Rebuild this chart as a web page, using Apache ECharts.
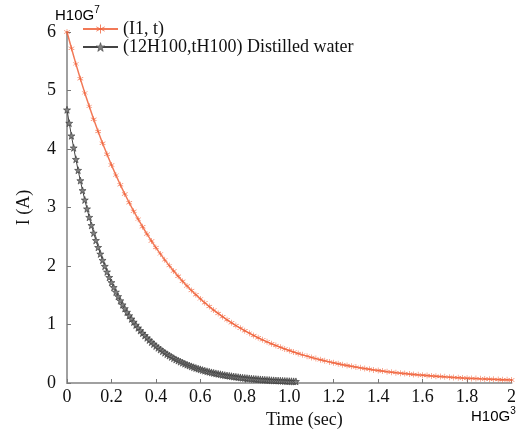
<!DOCTYPE html>
<html>
<head>
<meta charset="utf-8">
<script src="https://cdn.jsdelivr.net/npm/echarts@6/dist/echarts.min.js"></script>
<style>html,body{margin:0;padding:0;background:#fff}#c{width:519px;height:429px}</style>
</head>
<body>
<div id="c"></div>
<script>
// Tick labels
var xTicks = ['0','0.2','0.4','0.6','0.8','1.0','1.2','1.4','1.6','1.8','2'];
var yTicks = ['0','1','2','3','4','5','6'];
// Series names
var seriesNames = ['(I1, t)', '(12H100,tH100) Distilled water'];
// Time step for each series (axis units)
var redStep = 0.02;
var darkStep = 0.01;
// Current values
var redValues = [6.000,5.721,5.455,5.201,4.959,4.729,4.509,4.299,4.099,3.909,3.727,3.554,3.388,3.231,3.081,2.937,2.801,2.671,2.546,2.428,2.315,2.207,2.105,2.007,1.914,1.825,1.740,1.659,1.582,1.508,1.438,1.371,1.307,1.247,1.189,1.133,1.081,1.030,0.982,0.937,0.893,0.852,0.812,0.774,0.738,0.704,0.671,0.640,0.610,0.582,0.555,0.529,0.504,0.481,0.459,0.437,0.417,0.398,0.379,0.361,0.345,0.329,0.313,0.299,0.285,0.272,0.259,0.247,0.235,0.224,0.214,0.204,0.194,0.185,0.177,0.168,0.161,0.153,0.146,0.139,0.133,0.127,0.121,0.115,0.110,0.105,0.100,0.095,0.091,0.086,0.082,0.079,0.075,0.071,0.068,0.065,0.062,0.059,0.056,0.054,0.051];
var darkValues = [4.670,4.442,4.226,4.020,3.824,3.637,3.460,3.291,3.130,2.978,2.833,2.694,2.563,2.438,2.319,2.206,2.098,1.996,1.899,1.806,1.718,1.634,1.555,1.479,1.407,1.338,1.273,1.211,1.152,1.096,1.042,0.991,0.943,0.897,0.853,0.812,0.772,0.735,0.699,0.665,0.632,0.601,0.572,0.544,0.518,0.493,0.469,0.446,0.424,0.403,0.384,0.365,0.347,0.330,0.314,0.299,0.284,0.270,0.257,0.245,0.233,0.221,0.211,0.200,0.191,0.181,0.173,0.164,0.156,0.149,0.141,0.134,0.128,0.122,0.116,0.110,0.105,0.100,0.095,0.090,0.086,0.082,0.078,0.074,0.070,0.067,0.064,0.061,0.058,0.055,0.052,0.050,0.047,0.045,0.043,0.041,0.039,0.037,0.035,0.033,0.031,0.030,0.028,0.027];

var redData = redValues.map(function(v,i){return [+(i*redStep).toFixed(3), v];});
var darkData = darkValues.map(function(v,i){return [+(i*darkStep).toFixed(3), v];});

var RED = '#f0623a';
var DARK = '#444';
var AX = '#a0a0a0';
var serif = '"Liberation Serif", "DejaVu Serif", serif';
var sans = '"Liberation Sans", Arial, sans-serif';
var starPath = 'path://M0,-10L2.35,-3.24L9.51,-3.09L3.8,1.24L5.88,8.09L0,4L-5.88,8.09L-3.8,1.24L-9.51,-3.09L-2.35,-3.24Z';
var astPath = 'path://M-0.8,-10L0.8,-10L0.8,-1.4L8.3,-5.7L9.1,-4.3L1.6,0L9.1,4.3L8.3,5.7L0.8,1.4L0.8,10L-0.8,10L-0.8,1.4L-8.3,5.7L-9.1,4.3L-1.6,0L-9.1,-4.3L-8.3,-5.7L-0.8,-1.4Z';

var chart = echarts.init(document.getElementById('c'));
chart.setOption({
  animation: false,
  backgroundColor: '#fff',
  grid: {left: 67, right: 2, top: 32, bottom: 46},
  legend: {
    orient: 'vertical', left: 82, top: 20, padding: 0, itemWidth: 35, itemHeight: 11, itemGap: 0,
    itemStyle: {borderWidth: 0.5},
    textStyle: {fontFamily: serif, fontSize: 18, color: '#111'},
    data: seriesNames
  },
  xAxis: {
    type: 'value', min: 0, max: 2, interval: 0.2,
    axisLine: {lineStyle: {color: AX, width: 2}},
    axisTick: {inside: true, length: 4, lineStyle: {color: '#777', width: 1}},
    splitLine: {show: false},
    axisLabel: {fontFamily: serif, fontSize: 18, color: '#111', margin: 5,
      formatter: function(v){ return xTicks[Math.round(v/0.2)]; }}
  },
  yAxis: {
    type: 'value', min: 0, max: 6, interval: 1,
    axisLine: {show: true, lineStyle: {color: AX, width: 2}},
    axisTick: {show: true, inside: true, length: 4, lineStyle: {color: '#777', width: 1}},
    splitLine: {show: false},
    axisLabel: {fontFamily: serif, fontSize: 18, color: '#111', margin: 11,
      formatter: function(v){ return yTicks[Math.round(v)]; }},
    name: 'I (A)', nameLocation: 'middle', nameGap: 34, nameRotate: 90,
    nameTextStyle: {fontFamily: serif, fontSize: 18, color: '#111'}
  },
  graphic: [
    {type: 'text', left: 266, top: 411, style: {text: 'Time (sec)', font: '18px ' + serif, fill: '#111'}},
    {type: 'text', left: 55, top: 5, style: {text: '{b|H10G}{s|7}', rich: {b: {fontFamily: sans, fontSize: 15, color: '#111', verticalAlign: 'bottom'}, s: {fontFamily: sans, fontSize: 10, color: '#111', verticalAlign: 'top', padding: [0,0,8,0]}}}},
    {type: 'text', left: 471, top: 406, style: {text: '{b|H10G}{s|3}', rich: {b: {fontFamily: sans, fontSize: 15, color: '#111', verticalAlign: 'bottom'}, s: {fontFamily: sans, fontSize: 10, color: '#111', verticalAlign: 'top', padding: [0,0,8,0]}}}}
  ],
  series: [
    {
      name: seriesNames[0], type: 'line', data: redData,
      symbol: astPath, symbolSize: 6, showAllSymbol: true,
      lineStyle: {color: RED, width: 1.5, opacity: 0.85},
      itemStyle: {color: RED},
      z: 3
    },
    {
      name: seriesNames[1], type: 'line', data: darkData,
      symbol: starPath, symbolSize: 7, showAllSymbol: true,
      lineStyle: {color: DARK, width: 1},
      itemStyle: {color: '#808080', borderColor: '#333', borderWidth: 0.6},
      z: 2
    }
  ]
});
</script>
</body>
</html>
